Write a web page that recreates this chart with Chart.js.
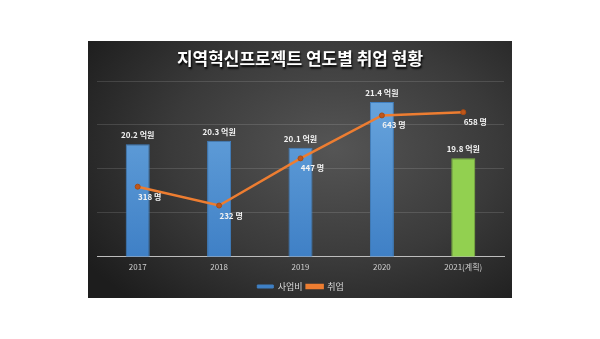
<!DOCTYPE html>
<html><head><meta charset="utf-8">
<script src="https://cdn.jsdelivr.net/npm/chart.js@4"></script>
<style>
html,body{margin:0;padding:0;background:#fff;width:600px;height:339px;overflow:hidden;}
#panel{position:absolute;left:88px;top:41px;width:424px;height:257px;
 background:radial-gradient(ellipse 70% 80% at 58% 42%, #555 0%, #3a3a3a 55%, #1d1d1d 100%);}
#title{position:absolute;left:0;top:5px;width:424px;text-align:center;color:#fff;
 font:bold 17px "Noto Sans CJK KR",sans-serif;text-shadow:1px 2px 2px #000;line-height:24px;}
#wrap{position:absolute;left:0;top:0;width:424px;height:257px;}
</style></head>
<body>
<div id="panel"><div id="wrap"><canvas id="c"></canvas></div><div id="title">지역혁신프로젝트 연도별 취업 현황</div></div>
<script>
const categories = ['2017','2018','2019','2020','2021(계획)'];
const budget = [20.2, 20.3, 20.1, 21.4, 19.8];
const jobs = [318, 232, 447, 643, 658];
const budgetUnit = ' 억원';
const jobsUnit = ' 명';

const KFONT = '"Noto Sans CJK KR", sans-serif';

function barColor(ctx){
  const chart = ctx.chart; const area = chart.chartArea;
  if (ctx.dataIndex === budget.length - 1) return '#92D050';
  if (!area) return '#5B9BD5';
  const g = chart.ctx.createLinearGradient(0, area.top, 0, area.bottom);
  g.addColorStop(0, '#6CA8DF'); g.addColorStop(1, '#3F80C6');
  return g;
}

const labelPlugin = {
  id: 'valueLabels',
  afterDatasetsDraw(chart){
    const ctx = chart.ctx;
    ctx.save();
    ctx.fillStyle = '#f2f2f2';
    ctx.textAlign = 'center';
    ctx.textBaseline = 'middle';
    ctx.font = 'bold 8px ' + KFONT;
    chart.getDatasetMeta(0).data.forEach((el, i) => {
      ctx.fillText(budget[i] + budgetUnit, el.x, el.y - 9);
    });
    chart.getDatasetMeta(1).data.forEach((el, i) => {
      ctx.fillText(jobs[i] + jobsUnit, el.x + 12, el.y + 10);
    });
    ctx.restore();
  }
};

new Chart(document.getElementById('c'), {
  data: {
    labels: categories,
    datasets: [
      { type: 'bar', label: '사업비', data: budget, yAxisID: 'y', order: 1,
        backgroundColor: barColor,
        borderColor: (c) => c.dataIndex === budget.length - 1 ? '#7FB843' : '#3F7FC0',
        borderWidth: 1, barPercentage: 0.59, categoryPercentage: 0.5 },
      { type: 'line', label: '취업', data: jobs, yAxisID: 'y2', order: 0,
        borderColor: '#ED7D31', backgroundColor: '#ED7D31', borderWidth: 2.5,
        pointRadius: 2.5, pointBackgroundColor: '#C0561A', pointBorderColor: '#A94B12',
        pointBorderWidth: 1, tension: 0 }
    ]
  },
  options: {
    responsive: true, maintainAspectRatio: false, animation: false,
    layout: { padding: { top: 40, left: 9, right: 8, bottom: -3 } },
    plugins: {
      title: { display: false },
      tooltip: { enabled: false },
      legend: { position: 'bottom',
        labels: { color: '#d9d9d9', font: { size: 9, family: KFONT }, boxWidth: 16, boxHeight: 3, padding: 4,
          sort: (a, b) => a.datasetIndex - b.datasetIndex } }
    },
    scales: {
      x: { grid: { display: false, drawTicks: false }, border: { color: '#bdbdbd', width: 1 },
        ticks: { color: '#d0d0d0', font: { size: 8, family: KFONT }, padding: 6 } },
      y: { position: 'left', min: 17, max: 22, ticks: { display: false, stepSize: 1.25 },
        grid: { color: 'rgba(255,255,255,0.13)', drawTicks: false }, border: { display: false },
        afterFit: (s) => { s.width = 0; } },
      y2: { position: 'right', min: 0, max: 800, display: false }
    }
  },
  plugins: [labelPlugin]
});
</script>
</body></html>
